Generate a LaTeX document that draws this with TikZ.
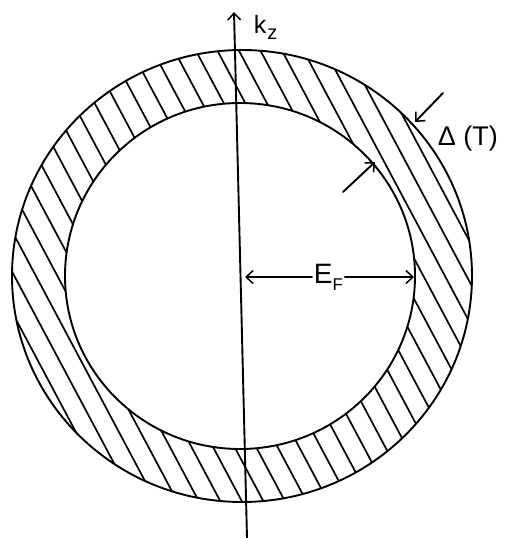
\documentclass[tikz,border=0pt]{standalone}
\usepackage{fontspec}
\setmainfont{Liberation Sans}
\usetikzlibrary{arrows.meta}
\begin{document}
\begin{tikzpicture}[x=1pt,y=-1pt, line width=1.9pt, line cap=round,
  barb/.style={-{Straight Barb[length=7pt,width=13pt,line width=1.5pt]}},
  lbl/.style={inner sep=0pt, anchor=base west},
  hatch/.style={line width=1.7pt}]
\useasboundingbox (0,0) rectangle (504,538);
% hatching inside the shell
\begin{scope}
  \clip (242,276) ellipse [x radius=230pt, y radius=226pt];
  \foreach \k in {-14,...,14} {
    \pgfmathsetmacro{\px}{241+(\k*19+9)*0.883}
    \pgfmathsetmacro{\py}{276-(\k*19+9)*0.47}
    \draw[hatch] (\px-141,\py-265) -- (\px+141,\py+265);
  }
\end{scope}
\fill[white] (240,276) ellipse [x radius=175pt, y radius=173pt];
% outer and inner surfaces
\draw (242,276) ellipse [x radius=230pt, y radius=226pt];
\draw (240,276) ellipse [x radius=175pt, y radius=173pt];
% k_z axis
\coordinate (axbot) at (247,538);
\coordinate (axtop) at (234,12);
\draw[barb] (axbot) -- (axtop);
\node[lbl] (kz) at (253,33) {\fontsize{25}{25}\selectfont k\kern1pt\raisebox{-6pt}{\fontsize{20}{20}\selectfont z}};
% E_F
\node[lbl] (ef) at (313,283) {\fontsize{28}{28}\selectfont E\raisebox{-7pt}{\fontsize{17}{17}\selectfont F}};
\coordinate (efl) at (245,277);
\coordinate (efr) at (414,277);
\draw[barb] ([xshift=-1pt]ef.west |- efl) -- (efl);
\draw[barb] ([xshift=1pt]ef.east |- efr) -- (efr);
% Delta(T)
\node[lbl] (dt) at (437,145) {\fontsize{27}{27}\selectfont Δ (T)};
\coordinate (o1) at (443,93);
\coordinate (o2) at (415,122);
\draw[barb] (o1) -- (o2);
\coordinate (i1) at (343,192);
\coordinate (i2) at (375,162);
\draw[barb] (i1) -- (i2);
\end{tikzpicture}
\end{document}
